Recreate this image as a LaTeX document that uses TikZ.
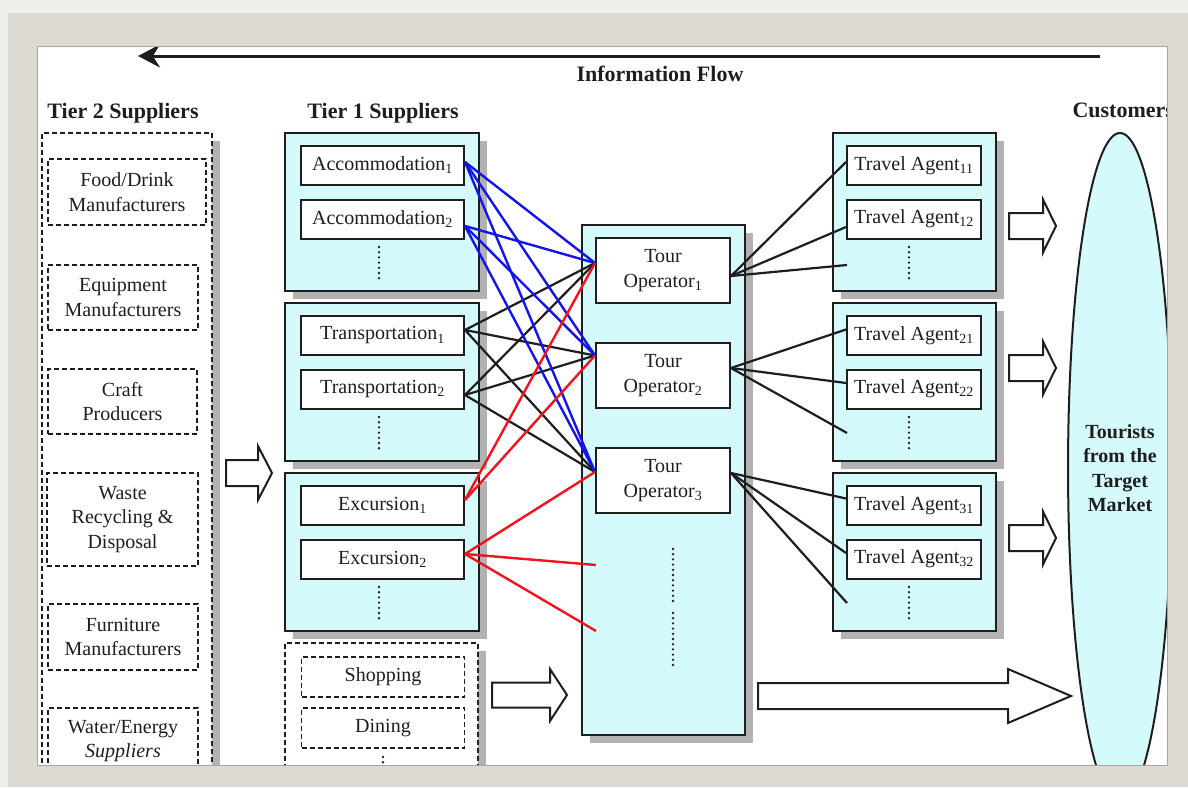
\documentclass[tikz,border=0pt]{standalone}
\usepackage{fontspec}
\setmainfont{Liberation Serif}
\usetikzlibrary{shadows,shapes.geometric,arrows.meta}

\definecolor{panelcyan}{RGB}{212,250,252}
\definecolor{shadowgray}{RGB}{178,178,178}
\definecolor{framegray}{RGB}{221,218,212}
\definecolor{outergray}{RGB}{238,238,237}
\definecolor{linkblue}{RGB}{20,20,235}
\definecolor{linkred}{RGB}{240,20,30}
\definecolor{ink}{RGB}{30,30,30}

\tikzset{
  boxtext/.style={font=\fontsize{20}{24.5}\selectfont, text=ink, align=center},
  flatshadow/.style={general shadow={fill=shadowgray, shadow xshift=8pt, shadow yshift=-8pt}},
  group/.style={draw=ink, line width=2pt, fill=panelcyan, flatshadow},
  dashgroup/.style={draw=ink, line width=1.8pt, dash pattern=on 5pt off 3pt, fill=white, flatshadow},
  unit/.style={boxtext, draw=ink, line width=2pt, fill=white, inner sep=0pt},
  dashunit/.style={boxtext, draw=ink, line width=1.8pt, dash pattern=on 5pt off 3pt, fill=white, inner sep=0pt},
  header/.style={font=\fontsize{22}{26}\selectfont\bfseries, text=ink, anchor=base},
  dotcol/.style={draw=ink, line width=2.6pt, dash pattern=on 0pt off 5.2pt, line cap=round},
  bluelink/.style={draw=linkblue, line width=2.4pt},
  blacklink/.style={draw=ink, line width=2.2pt},
  redlink/.style={draw=linkred, line width=2.4pt},
  blockarrow/.style={draw=ink, fill=white, line width=2pt, line join=miter},
}

% hollow block arrow: start x, centre y, tip x, shaft half height, head half height, head length
\newcommand{\flowarrow}[6]{%
  \draw[blockarrow] (#1,#2-#4) -- (#3-#6,#2-#4) -- (#3-#6,#2-#5) -- (#3,#2)
    -- (#3-#6,#2+#5) -- (#3-#6,#2+#4) -- (#1,#2+#4) -- cycle;}

\begin{document}
\begin{tikzpicture}[x=1pt,y=-1pt]
\useasboundingbox (0,0) rectangle (1188,787);
\fill[outergray] (0,0) rectangle (1188,787);
\fill[white] (37,46) rectangle (1167,765);

\begin{scope}
\clip (37,46) rectangle (1167,765);

% information flow
\coordinate (infoR) at (1100,56);
\coordinate (infoL) at (138,56);
\draw[line width=3pt, draw=ink, -{Stealth[length=22pt,width=23pt]}] (infoR) -- (infoL);
\node[header] (hinfo) at (660,81) {Information Flow};

% column headings
\node[header] (htiertwo) at (123,118) {Tier 2 Suppliers};
\node[header] (htierone) at (383,118) {Tier 1 Suppliers};
\node[header, anchor=base west] (hcust) at (1069,117) {Customers};

% tier 2 suppliers
\node[dashgroup, minimum width=170pt, minimum height=667pt] (tiertwo) at (127,466.5) {};
\node[dashunit, minimum width=158pt, minimum height=66pt] (food) at (127,192) {Food/Drink\\Manufacturers};
\node[dashunit, minimum width=150pt, minimum height=65pt] (equip) at (123,297.5) {Equipment\\Manufacturers};
\node[dashunit, minimum width=149pt, minimum height=65pt] (craft) at (122.5,401.5) {Craft\\Producers};
\node[dashunit, minimum width=151pt, minimum height=93pt] (waste) at (122.5,519.5) {Waste\\Recycling \&\\Disposal};
\node[dashunit, minimum width=150pt, minimum height=66pt] (furn) at (123,637) {Furniture\\Manufacturers};
\node[dashunit, minimum width=150pt, minimum height=66pt] (water) at (123,741) {Water/Energy\\\textit{Suppliers}};

\flowarrow{226}{473}{272}{13}{27}{14}

% tier 1 suppliers
\node[group, minimum width=194pt, minimum height=158pt] (grpA) at (382,212) {};
\node[group, minimum width=194pt, minimum height=158pt] (grpB) at (382,382) {};
\node[group, minimum width=194pt, minimum height=158pt] (grpC) at (382,552) {};
\node[dashgroup, minimum width=193pt, minimum height=157pt] (grpD) at (381.5,721.5) {};

\node[unit, minimum width=163pt, minimum height=39pt] (acc1) at (382.5,165.5) {Accommodation\textsubscript{1}};
\node[unit, minimum width=163pt, minimum height=39pt] (acc2) at (382.5,219) {Accommodation\textsubscript{2}};
\node[unit, minimum width=163pt, minimum height=39pt] (tr1) at (382.5,335.5) {Transportation\textsubscript{1}};
\node[unit, minimum width=163pt, minimum height=39pt] (tr2) at (382.5,389) {Transportation\textsubscript{2}};
\node[unit, minimum width=163pt, minimum height=39pt] (ex1) at (382.5,505.5) {Excursion\textsubscript{1}};
\node[unit, minimum width=163pt, minimum height=39pt] (ex2) at (382.5,559) {Excursion\textsubscript{2}};
\node[dashunit, minimum width=163pt, minimum height=40pt] (shop) at (383,677) {Shopping};
\node[dashunit, minimum width=163pt, minimum height=40pt] (dine) at (383,728) {Dining};

\draw[dotcol] (379,247) -- (379,279);
\draw[dotcol] (379,417) -- (379,449);
\draw[dotcol] (379,587) -- (379,619);
\draw[dotcol] (383,757) -- (383,775);

\flowarrow{492}{695}{567}{12.5}{26}{17}

% tour operators
\node[group, minimum width=163pt, minimum height=510pt] (tocol) at (663.5,480) {};
\node[unit, minimum width=134pt, minimum height=65pt] (to1) at (663,270.5) {Tour\\Operator\textsubscript{1}};
\node[unit, minimum width=134pt, minimum height=65pt] (to2) at (663,375.5) {Tour\\Operator\textsubscript{2}};
\node[unit, minimum width=134pt, minimum height=65pt] (to3) at (663,480.5) {Tour\\Operator\textsubscript{3}};
\draw[dotcol] (673,549) -- (673,605);
\draw[dotcol] (673,613) -- (673,668);

% travel agents
\node[group, minimum width=163pt, minimum height=158pt] (taA) at (914.5,212) {};
\node[group, minimum width=163pt, minimum height=158pt] (taB) at (914.5,382) {};
\node[group, minimum width=163pt, minimum height=158pt] (taC) at (914.5,552) {};
\node[unit, minimum width=134pt, minimum height=39pt] (ta11) at (914,165.5) {Travel Agent\textsubscript{11}};
\node[unit, minimum width=134pt, minimum height=39pt] (ta12) at (914,219) {Travel Agent\textsubscript{12}};
\node[unit, minimum width=134pt, minimum height=39pt] (ta21) at (914,335.5) {Travel Agent\textsubscript{21}};
\node[unit, minimum width=134pt, minimum height=39pt] (ta22) at (914,389) {Travel Agent\textsubscript{22}};
\node[unit, minimum width=134pt, minimum height=39pt] (ta31) at (914,505.5) {Travel Agent\textsubscript{31}};
\node[unit, minimum width=134pt, minimum height=39pt] (ta32) at (914,559) {Travel Agent\textsubscript{32}};
\draw[dotcol] (909,247) -- (909,279);
\draw[dotcol] (909,417) -- (909,449);
\draw[dotcol] (909,587) -- (909,619);

% customers
\node[ellipse, draw=ink, line width=2pt, fill=panelcyan, minimum width=100pt, minimum height=670pt,
      inner sep=0pt, font=\fontsize{20}{24.5}\selectfont\bfseries, text=ink, align=center]
      (cust) at (1120,468) {Tourists\\from the\\Target\\Market};

\flowarrow{1009}{226}{1056}{13}{26.5}{13}
\flowarrow{1009}{368}{1056}{13}{26.5}{13}
\flowarrow{1009}{538}{1056}{13}{26.5}{13}
\flowarrow{758}{696}{1071}{13}{27}{63}

% link end points
\coordinate (sA1) at ([yshift=3.5pt]acc1.east);
\coordinate (sA2) at ([yshift=-7pt]acc2.east);
\coordinate (sT1) at ([yshift=5.5pt]tr1.east);
\coordinate (sT2) at ([yshift=-6pt]tr2.east);
\coordinate (sE1) at ([yshift=5.5pt]ex1.east);
\coordinate (sE2) at ([yshift=5pt]ex2.east);
\coordinate (in1) at ([yshift=7.5pt]to1.west);
\coordinate (in2) at ([yshift=20pt]to2.west);
\coordinate (in3) at ([yshift=8.5pt]to3.west);
\coordinate (more1) at (596,565);
\coordinate (more2) at (596,631);
\coordinate (out1) at ([yshift=-5.5pt]to1.east);
\coordinate (out2) at ([yshift=7.5pt]to2.east);
\coordinate (out3) at ([yshift=7.5pt]to3.east);
\coordinate (a11) at ([yshift=3.5pt]ta11.west);
\coordinate (a12) at ([yshift=-8pt]ta12.west);
\coordinate (a1x) at (847,265);
\coordinate (a21) at ([yshift=6pt]ta21.west);
\coordinate (a22) at ([yshift=6pt]ta22.west);
\coordinate (a2x) at (847,433);
\coordinate (a31) at ([yshift=7pt]ta31.west);
\coordinate (a32) at ([yshift=6pt]ta32.west);
\coordinate (a3x) at (847,603);

% suppliers to tour operators
\foreach \s in {sT1,sT2} \foreach \t in {in1,in2,in3} \draw[blacklink] (\s) -- (\t);
\foreach \s in {sA1,sA2} \foreach \t in {in1,in2,in3} \draw[bluelink] (\s) -- (\t);
\foreach \t in {in1,in2} \draw[redlink] (sE1) -- (\t);
\foreach \t in {in3,more1,more2} \draw[redlink] (sE2) -- (\t);

% tour operators to travel agents
\foreach \t in {a11,a12,a1x} \draw[blacklink] (out1) -- (\t);
\foreach \t in {a21,a22,a2x} \draw[blacklink] (out2) -- (\t);
\foreach \t in {a31,a32,a3x} \draw[blacklink] (out3) -- (\t);
\end{scope}

% surrounding frame
\fill[framegray, even odd rule] (8,13) rectangle (1188,787) (37,46) rectangle (1167,765);
\draw[black!35, line width=1pt] (37,46) rectangle (1167,765);
\end{tikzpicture}
\end{document}
